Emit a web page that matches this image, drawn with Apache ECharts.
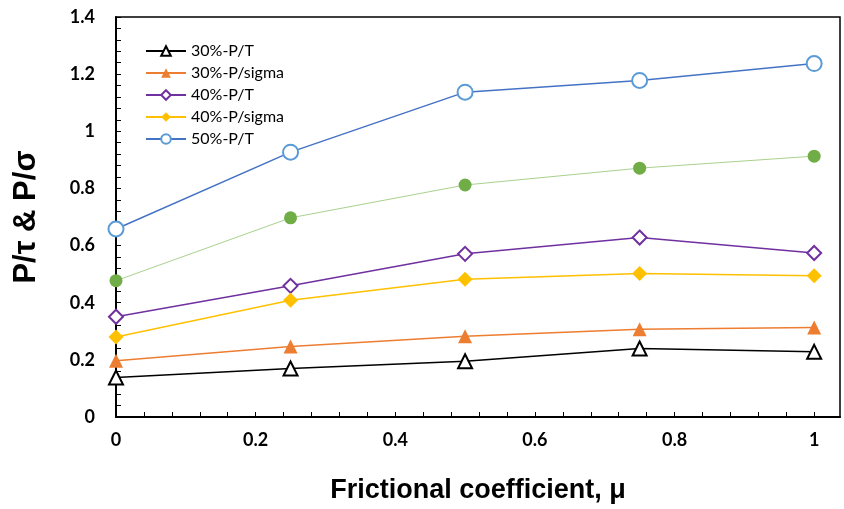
<!DOCTYPE html>
<html>
<head>
<meta charset="utf-8">
<script src="https://cdn.jsdelivr.net/npm/echarts@6/dist/echarts.min.js"></script>
<style>
html, body { margin: 0; padding: 0; background: #fff; }
#chart { width: 844px; height: 509px; }
</style>
</head>
<body>
<div id="chart"></div>
<script>
// x values (frictional coefficient)
var mu = [0, 0.25, 0.5, 0.75, 1];
// series
var p30T = [0.138, 0.17, 0.195, 0.24, 0.228];
var p30Sigma = [0.197, 0.247, 0.283, 0.307, 0.313];
var p40T = [0.351, 0.459, 0.571, 0.628, 0.574];
var p40Sigma = [0.28, 0.409, 0.482, 0.502, 0.494];
var p50T = [0.658, 0.927, 1.137, 1.178, 1.237];
var p50Sigma = [0.477, 0.697, 0.812, 0.871, 0.913];
// tick labels
var xLabels = [0, 0.2, 0.4, 0.6, 0.8, 1];
var yLabels = [0, 0.2, 0.4, 0.6, 0.8, 1, 1.2, 1.4];

// minor ticks every 0.04 on x, up to 1 only
var xTicks = [];
for (var i = 0; i <= 25; i++) {
  xTicks.push(Math.round(i * 0.04 * 100) / 100);
}

function pairs(ys) {
  return mu.map(function (x, i) { return [x, ys[i]]; });
}

var chart = echarts.init(document.getElementById("chart"));

var labelFont = {
  color: "#000",
  fontFamily: "Lato",
  fontWeight: "bold",
  fontSize: 18
};

function lineSeries(name, data, color, symbol, size, lineColor, lineWidth) {
  return {
    name: name,
    type: "line",
    data: pairs(data),
    symbol: symbol,
    symbolSize: size,
    showSymbol: true,
    z: 3,
    lineStyle: { color: lineColor || color, width: lineWidth || 1.5 },
    itemStyle: { color: color, borderWidth: 1.5 }
  };
}

var opts = {
  animation: false,
  backgroundColor: "#fff",
  grid: {
    left: 116,
    right: 4,
    top: 17,
    bottom: 90,
    show: true,
    borderColor: "#000",
    borderWidth: 1.5
  },
  legend: {
    data: ["30%-P/T", "30%-P/sigma", "40%-P/T", "40%-P/sigma", "50%-P/T"],
    orient: "vertical",
    left: 140,
    top: 38,
    itemGap: 6,
    itemWidth: 40,
    itemHeight: 12,
    textStyle: { color: "#000", fontFamily: "Lato", fontSize: 16 }
  },
  xAxis: {
    type: "value",
    min: 0,
    max: 1.037,
    name: "Frictional coefficient, μ",
    nameLocation: "middle",
    nameGap: 60,
    nameTextStyle: {
      color: "#000",
      fontFamily: "Liberation Sans",
      fontWeight: "bold",
      fontSize: 27
    },
    axisLine: { lineStyle: { color: "#000", width: 2 } },
    axisTick: {
      inside: true,
      length: 5,
      customValues: xTicks,
      lineStyle: { color: "#000", width: 1 }
    },
    axisLabel: Object.assign({ customValues: xLabels, margin: 14 }, labelFont),
    splitLine: { show: false }
  },
  yAxis: {
    type: "value",
    min: 0,
    max: 1.4,
    interval: 0.2,
    name: "P/τ & P/σ",
    nameLocation: "middle",
    nameGap: 74,
    nameTextStyle: {
      color: "#000",
      fontFamily: "Liberation Sans",
      fontWeight: "bold",
      fontSize: 31
    },
    axisLine: { show: true, lineStyle: { color: "#000", width: 2 } },
    axisTick: { show: true, inside: true, length: 5, lineStyle: { color: "#000", width: 1 } },
    minorTick: { show: true, splitNumber: 5, length: 5, lineStyle: { color: "#000", width: 1 } },
    axisLabel: Object.assign({
      margin: 21,
      formatter: function (v) {
        var s = String(Math.round(v * 10) / 10);
        return yLabels.indexOf(Number(s)) >= 0 ? s : "";
      }
    }, labelFont),
    splitLine: { show: false }
  },
  series: [
    lineSeries("50%-P/sigma", p50Sigma, "#70AD47", "circle", 13, "#A9D18E", 1),
    lineSeries("30%-P/T", p30T, "#000000", "emptyTriangle", 14),
    lineSeries("30%-P/sigma", p30Sigma, "#ED7D31", "triangle", 14),
    lineSeries("40%-P/T", p40T, "#7030A0", "emptyDiamond", 14),
    lineSeries("40%-P/sigma", p40Sigma, "#FFC000", "diamond", 15),
    lineSeries("50%-P/T", p50T, "#5B9BD5", "emptyCircle", 15, "#4472C4")
  ]
};

chart.setOption(opts);
</script>
</body>
</html>
